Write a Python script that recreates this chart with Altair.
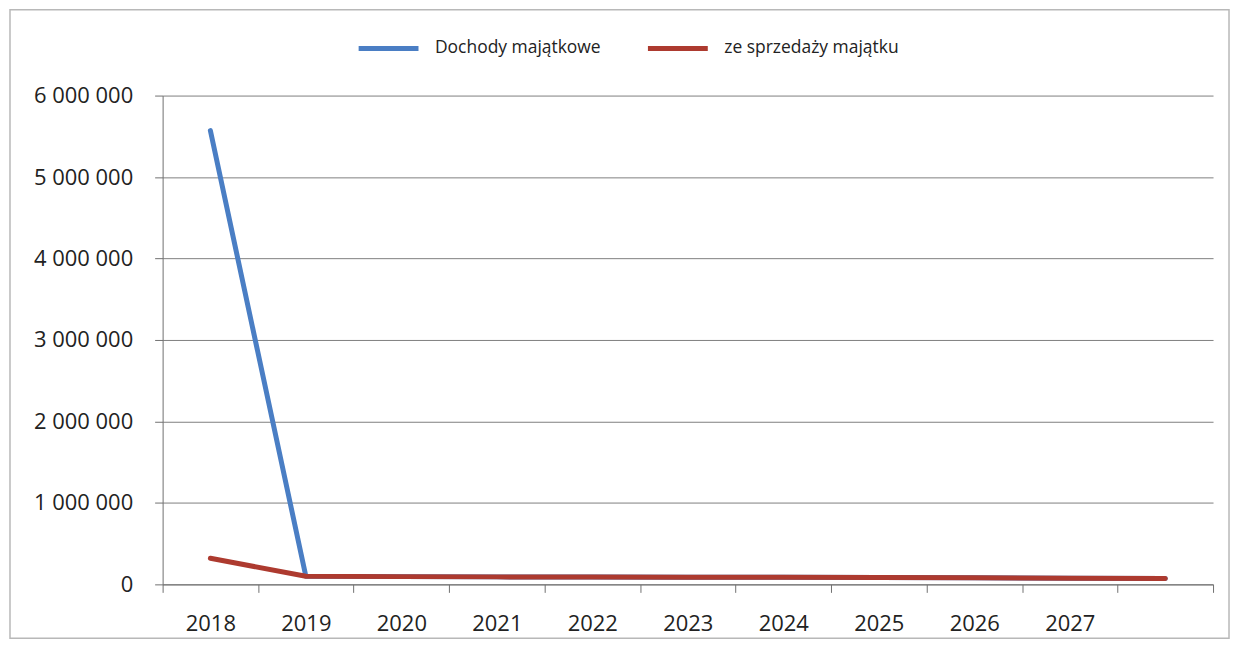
import altair as alt
import pandas as pd

years = ["2018", "2019", "2020", "2021", "2022", "2023", "2024", "2025", "2026", "2027", "2028"]
dochody_majatkowe = [5570000, 100000, 95000, 92000, 90000, 88000, 86000, 84000, 80000, 76000, 72000]
ze_sprzedazy = [320000, 100000, 95000, 92000, 90000, 88000, 86000, 84000, 80000, 76000, 72000]
series_names = ["Dochody majątkowe", "ze sprzedaży majątku"]
series_colors = ["#4a7ec4", "#ad3a2f"]
y_ticks = [0, 1000000, 2000000, 3000000, 4000000, 5000000, 6000000]

rows = []
for i, y in enumerate(years):
    rows.append({"rok": y, "seria": series_names[0], "wartosc": dochody_majatkowe[i], "o": 0})
for i, y in enumerate(years):
    rows.append({"rok": y, "seria": series_names[1], "wartosc": ze_sprzedazy[i], "o": 1})
df = pd.DataFrame(rows)

FONT = "Open Sans"

lines = alt.Chart(df).mark_line(strokeWidth=5, strokeCap="round", strokeJoin="round").encode(
    x=alt.X(
        "rok:O",
        title=None,
        sort=years,
        scale=alt.Scale(paddingInner=0, paddingOuter=0),
        axis=alt.Axis(
            tickBand="extent",
            labelAngle=0,
            labelExpr="datum.value == '2028' ? '' : datum.value",
            labelFontSize=22,
            labelFont=FONT,
            labelColor="#222222",
            labelPadding=21,
            tickSize=8,
            tickColor="#707070",
            domainColor="#707070",
            grid=False,
        ),
    ),
    y=alt.Y(
        "wartosc:Q",
        title=None,
        scale=alt.Scale(domain=[0, 6000000], nice=False),
        axis=alt.Axis(
            values=y_ticks,
            labelExpr="replace(replace(format(datum.value, ','), ',', ' '), ',', ' ')",
            labelFontSize=22,
            labelFont=FONT,
            labelColor="#222222",
            labelPadding=22,
            tickSize=8,
            tickColor="#707070",
            domainColor="#707070",
            gridColor="#808080",
            gridWidth=1,
        ),
    ),
    color=alt.Color(
        "seria:N",
        sort=series_names,
        scale=alt.Scale(domain=series_names, range=series_colors),
        legend=alt.Legend(
            title=None,
            orient="none",
            direction="horizontal",
            legendX=194,
            legendY=-80,
            symbolType="stroke",
            symbolSize=3600,
            symbolStrokeWidth=5,
            labelFontSize=17.5,
            labelFont=FONT,
            labelColor="#222222",
            labelOffset=14,
            labelLimit=400,
            columnPadding=36,
        ),
    ),
    order=alt.Order("o:Q"),
    detail="seria:N",
)

frame = alt.Chart(alt.Data(values=[{"a": 1}])).mark_rect(
    fill="transparent", stroke="#b8b8b8", strokeWidth=1.5
).encode(
    x=alt.value(-153), x2=alt.value(1069), y=alt.value(-86), y2=alt.value(544)
)

chart = alt.layer(frame, lines).properties(
    width=1053,
    height=490,
    autosize=alt.AutoSizeParams(type="none"),
    padding={"left": 155, "top": 87, "right": 18, "bottom": 58},
    background="white",
).configure_view(strokeWidth=0)

chart.save("out.html", embed_options={"renderer": "svg", "actions": False})
